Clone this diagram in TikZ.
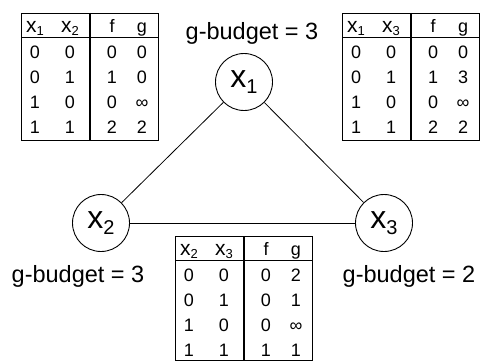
\documentclass[tikz,border=0pt]{standalone}
\usepackage{fontspec}
\setmainfont{Liberation Sans}
\newcommand{\vx}[3]{x\raisebox{-#3}{\fontsize{#2}{#2}\selectfont #1}}
\tikzset{
  var/.style={circle, draw, line width=0.9pt, minimum size=57pt, inner sep=0pt,
    font=\fontsize{32}{32}\selectfont},
  edge/.style={line width=0.8pt},
  budget/.style={font=\fontsize{23.5}{24}\selectfont, anchor=base, inner sep=0pt},
  cell/.style={font=\fontsize{18}{18}\selectfont, anchor=base, inner sep=0pt},
  hdr/.style={font=\fontsize{21}{21}\selectfont, anchor=base, inner sep=0pt},
  tabline/.style={line width=0.8pt},
  divline/.style={line width=1.8pt},
}
% #1 name, #2 left, #3 top, #4 sub a, #5 sub b, #6 height, #7 rows
\newcommand{\gtab}[7]{%
  \begin{scope}[shift={(#2,#3)}]
    \draw[tabline] (0,0) rectangle (137,#6);
    \draw[tabline] (0,24.5) -- (137,24.5);
    \draw[divline] (69,0) -- (69,#6);
    \node[hdr] (#1-ha) at (14,19.5) {\vx{#4}{13}{3pt}};
    \node[hdr] (#1-hb) at (49,19.5) {\vx{#5}{13}{3pt}};
    \node[cell] (#1-hf) at (91,19.5) {f};
    \node[cell] (#1-hg) at (121,19.5) {g};
    \foreach \a/\b/\f/\g [count=\i] in {#7} {
      \node[cell] (#1-a\i) at (14,20.5+25*\i) {\a};
      \node[cell] (#1-b\i) at (49,20.5+25*\i) {\b};
      \node[cell] (#1-f\i) at (91,20.5+25*\i) {\f};
      \node[cell] (#1-g\i) at (121,20.5+25*\i) {\g};
    }
  \end{scope}}
\begin{document}
\begin{tikzpicture}[x=1pt,y=-1pt]
\useasboundingbox (0,0) rectangle (481,361);
\fill[white] (0,0) rectangle (481,361);

\node[var] (x1) at (244,82) {\vx{1}{20}{6pt}};
\node[var] (x2) at (101,223) {\vx{2}{20}{6pt}};
\node[var] (x3) at (384,223) {\vx{3}{20}{6pt}};

\draw[edge] (x1) -- (x2);
\draw[edge] (x1) -- (x3);
\draw[edge] (x2) -- (x3);

\node[budget] (b1) at (252,40) {g-budget = 3};
\node[budget] (b2) at (78,282) {g-budget = 3};
\node[budget] (b3) at (409,282) {g-budget = 2};

\gtab{t12}{21}{13}{1}{2}{127}{0/0/0/0,0/1/1/0,1/0/0/∞,1/1/2/2}
\gtab{t13}{342}{13}{1}{3}{127}{0/0/0/0,0/1/1/3,1/0/0/∞,1/1/2/2}
\gtab{t23}{175}{236}{2}{3}{124}{0/0/0/2,0/1/0/1,1/0/0/∞,1/1/1/1}
\end{tikzpicture}
\end{document}
